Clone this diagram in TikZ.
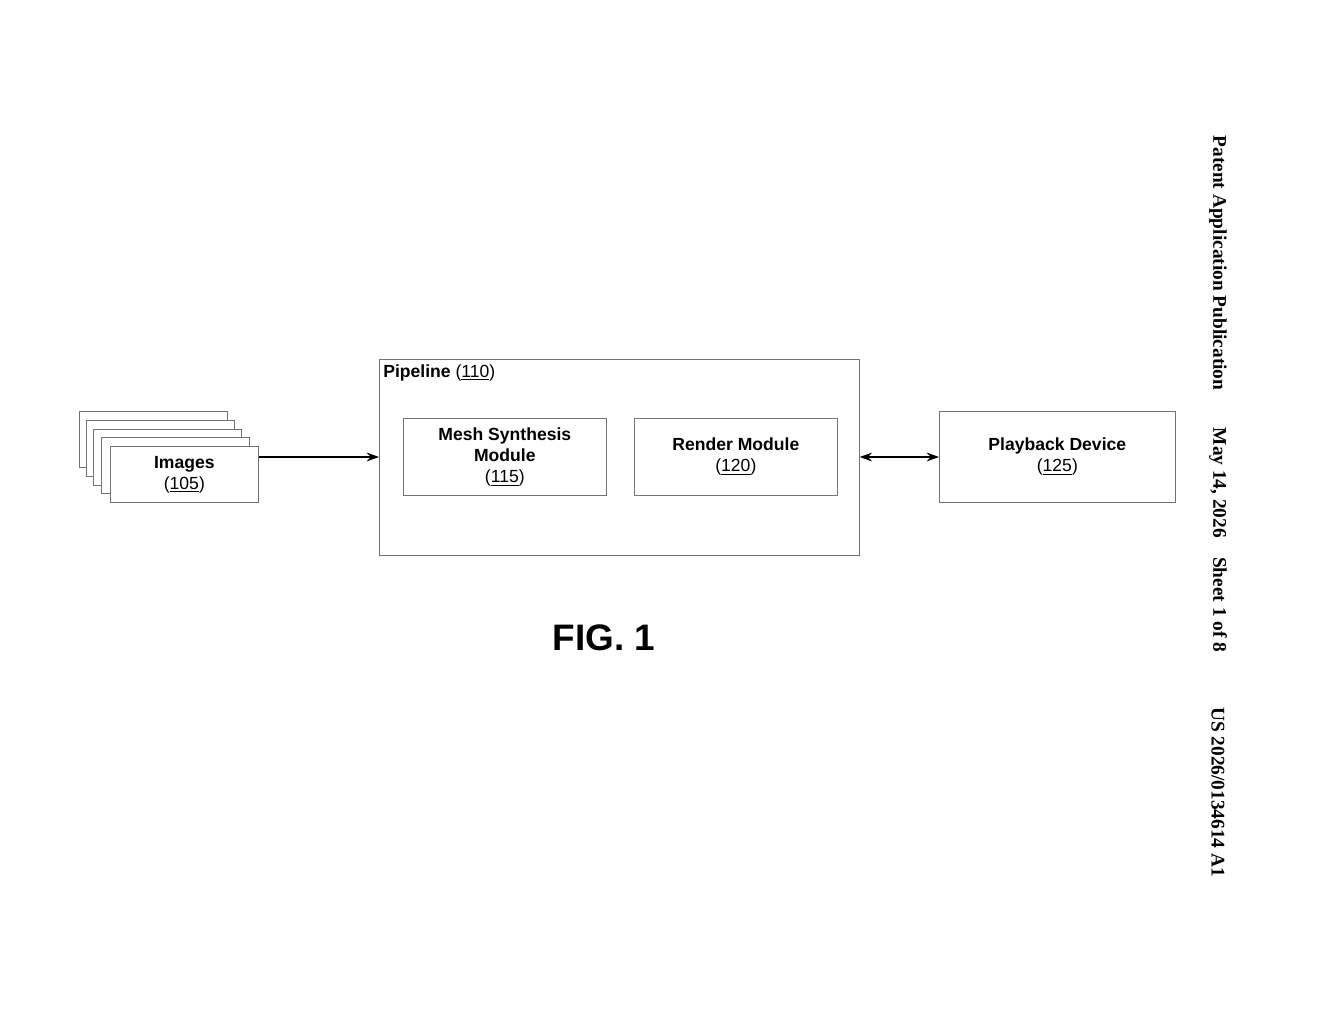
\documentclass[tikz,border=0pt]{standalone}
\usepackage{fontspec}
\setmainfont{Liberation Sans}
\newfontfamily\serifbold{Liberation Serif}
\usetikzlibrary{arrows.meta}
\begin{document}
\begin{tikzpicture}[x=0.02cm,y=-0.02cm,
  box/.style={draw=black!55,fill=white,inner sep=0,anchor=north west,align=center,font=\fontsize{10}{12}\selectfont\bfseries},
  arr/.style={thick,-{Stealth[length=7pt,width=5pt]}},
  side/.style={rotate=-90,font=\serifbold\fontsize{11}{13}\selectfont\bfseries}
  ]
  \useasboundingbox (0,0) rectangle (1320,1024);
  %
  % Images stack
  %
  \foreach \i/\x/\y in {0/79/411,1/86/420,2/93/429,3/101/437}
    \node(img\i) [box,minimum width=148*0.02cm,minimum height=56*0.02cm] at (\x,\y) {};
  \node(images)[box,minimum width=148*0.02cm,minimum height=56*0.02cm] at (110,446)
    {Images\\\mdseries(\underline{105})};
  %
  % Pipeline
  %
  \node(pipe)  [box,minimum width=480*0.02cm,minimum height=196*0.02cm] at (379,359) {};
  \node(pipelbl)[anchor=north west,inner sep=0,font=\fontsize{10}{12}\selectfont] at (383,364)
    {\textbf{Pipeline} (\underline{110})};
  \node(mesh)  [box,minimum width=203*0.02cm,minimum height=77*0.02cm] at (403,418)
    {Mesh Synthesis\\Module\\\mdseries(\underline{115})};
  \node(render)[box,minimum width=203*0.02cm,minimum height=77*0.02cm] at (634,418)
    {Render Module\\\mdseries(\underline{120})};
  \node(play)  [box,minimum width=236*0.02cm,minimum height=91*0.02cm] at (939,411)
    {Playback Device\\\mdseries(\underline{125})};
  %
  % Arrows
  %
  \draw[arr] (images.east |- 0,457) -- (pipe.west |- 0,457);
  \draw[arr,{Stealth[length=7pt,width=5pt]}-{Stealth[length=7pt,width=5pt]}] (pipe.east |- 0,457) -- (play.west |- 0,457);
  %
  % Caption and header
  %
  \node(fig)[font=\fontsize{21}{25}\selectfont\bfseries] at (604,638) {FIG. 1};
  \node(hdr1)[side] at (1218,263) {Patent Application Publication};
  \node(hdr2)[side] at (1218,540) {May 14, 2026\quad Sheet 1 of 8};
  \node(hdr3)[side] at (1218,792) {US 2026/0134614 A1};
\end{tikzpicture}
\end{document}
